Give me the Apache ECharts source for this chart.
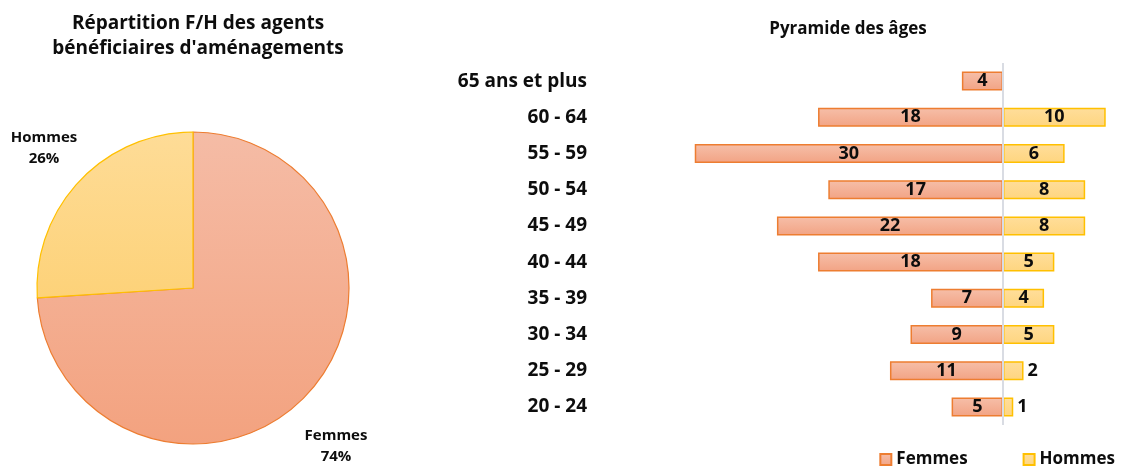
<!DOCTYPE html>
<html>
<head>
<meta charset="utf-8">
<script src="https://cdn.jsdelivr.net/npm/echarts@6/dist/echarts.min.js"></script>
<style>
  html, body { margin: 0; padding: 0; background: #fff; }
  #chart { width: 1126px; height: 474px; }
</style>
</head>
<body>
<div id="chart"></div>
<script>
// Répartition F/H (camembert)
const pieNames = ['Femmes', 'Hommes'];
const pieValues = [74, 26];

// Pyramide des âges (du bas vers le haut)
const ageClasses = ['20 - 24', '25 - 29', '30 - 34', '35 - 39', '40 - 44', '45 - 49', '50 - 54', '55 - 59', '60 - 64', '65 ans et plus'];
const femmes = [5, 11, 9, 7, 18, 22, 17, 30, 18, 4];
const hommes = [1, 2, 5, 4, 5, 8, 8, 6, 10, null];

const FONT = '"Open Sans", sans-serif';
const INK = '#0d0d0d';
const orangeFill = { type: 'linear', x: 0, y: 0, x2: 0, y2: 1,
  colorStops: [{ offset: 0, color: '#F5BCA6' }, { offset: 1, color: '#F3A27F' }] };
const yellowFill = { type: 'linear', x: 0, y: 0, x2: 0, y2: 1,
  colorStops: [{ offset: 0, color: '#FEDC97' }, { offset: 1, color: '#FDD279' }] };
const orangeBar = { type: 'linear', x: 0, y: 0, x2: 0, y2: 1,
  colorStops: [{ offset: 0, color: '#F6BFA9' }, { offset: 1, color: '#F2A384' }] };
const yellowBar = { type: 'linear', x: 0, y: 0, x2: 0, y2: 1,
  colorStops: [{ offset: 0, color: '#FFDE9B' }, { offset: 1, color: '#FED57F' }] };

const chart = echarts.init(document.getElementById('chart'), null, { renderer: 'canvas' });

// Femmes à gauche (valeurs négatives), Hommes à droite
const femmesData = femmes.map(v => -v);
const hommesData = hommes.map(v => ({
  value: v,
  label: { position: (v !== null && v < 3) ? 'right' : 'inside' }
}));

// positions des étiquettes du camembert
const pieLabelPos = [{ x: 336, y: 446 }, { x: 44, y: 148 }];

chart.setOption({
  animation: false,
  textStyle: { fontFamily: FONT },
  title: [
    {
      text: 'Répartition F/H des agents\nbénéficiaires d\'aménagements',
      left: 193, top: 6, textAlign: 'center',
      textStyle: { fontFamily: FONT, fontSize: 19, fontWeight: 'bold', color: INK, lineHeight: 25 }
    },
    {
      text: 'Pyramide des âges',
      left: 843, top: 16, textAlign: 'center',
      textStyle: { fontFamily: FONT, fontSize: 17, fontWeight: 'bold', color: INK }
    }
  ],
  legend: {
    data: ['Femmes', 'Hommes'],
    right: 6, bottom: 1,
    itemWidth: 11, itemHeight: 11, itemGap: 55,
    icon: 'rect',
    textStyle: { fontFamily: FONT, fontSize: 17, fontWeight: 'bold', color: INK, padding: [0, 0, 0, 0] }
  },
  grid: { left: 592, width: 524, top: 63, height: 362, containLabel: false },
  xAxis: {
    type: 'value', min: -40, max: 11, show: false
  },
  yAxis: {
    type: 'category', data: ageClasses,
    axisLine: { show: false }, axisTick: { show: false },
    axisLabel: { fontFamily: FONT, fontSize: 19, fontWeight: 'bold', color: INK, margin: 5 },
    splitLine: { show: false }
  },
  series: [
    {
      type: 'pie',
      center: [193, 288], radius: 156,
      startAngle: 90, clockwise: true,
      data: pieNames.map((n, i) => ({
        name: n, value: pieValues[i],
        itemStyle: i === 0
          ? { color: orangeFill, borderColor: '#ED7D31', borderWidth: 1.2 }
          : { color: yellowFill, borderColor: '#FFC000', borderWidth: 1.2 }
      })),
      label: {
        show: true, position: 'outside', overflow: 'none', alignTo: 'none',
        formatter: '{b}\n{d}%',
        fontFamily: FONT, fontSize: 15, fontWeight: 'bold', color: INK,
        lineHeight: 21, align: 'center'
      },
      labelLine: { show: false },
      labelLayout: (p) => ({ x: pieLabelPos[p.dataIndex].x, y: pieLabelPos[p.dataIndex].y, align: 'center', verticalAlign: 'middle' }),
      legendHoverLink: false,
      silent: true
    },
    {
      name: 'Femmes', type: 'bar',
      data: femmesData,
      barWidth: 19, barGap: '-100%',
      itemStyle: { color: orangeBar, borderColor: '#ED7D31', borderWidth: 1.5 },
      label: {
        show: true, position: 'inside',
        formatter: p => Math.abs(p.value),
        fontFamily: FONT, fontSize: 18, fontWeight: 'bold', color: INK
      },
      markLine: {
        silent: true, symbol: 'none',
        label: { show: false },
        lineStyle: { color: '#D9DCE3', width: 2, type: 'solid' },
        data: [{ xAxis: 0 }]
      }
    },
    {
      name: 'Hommes', type: 'bar',
      data: hommesData,
      barWidth: 19, barGap: '-100%',
      itemStyle: { color: yellowBar, borderColor: '#FFC000', borderWidth: 1.5 },
      label: {
        show: true,
        fontFamily: FONT, fontSize: 18, fontWeight: 'bold', color: INK, distance: 4
      }
    }
  ]
});
</script>
</body>
</html>
